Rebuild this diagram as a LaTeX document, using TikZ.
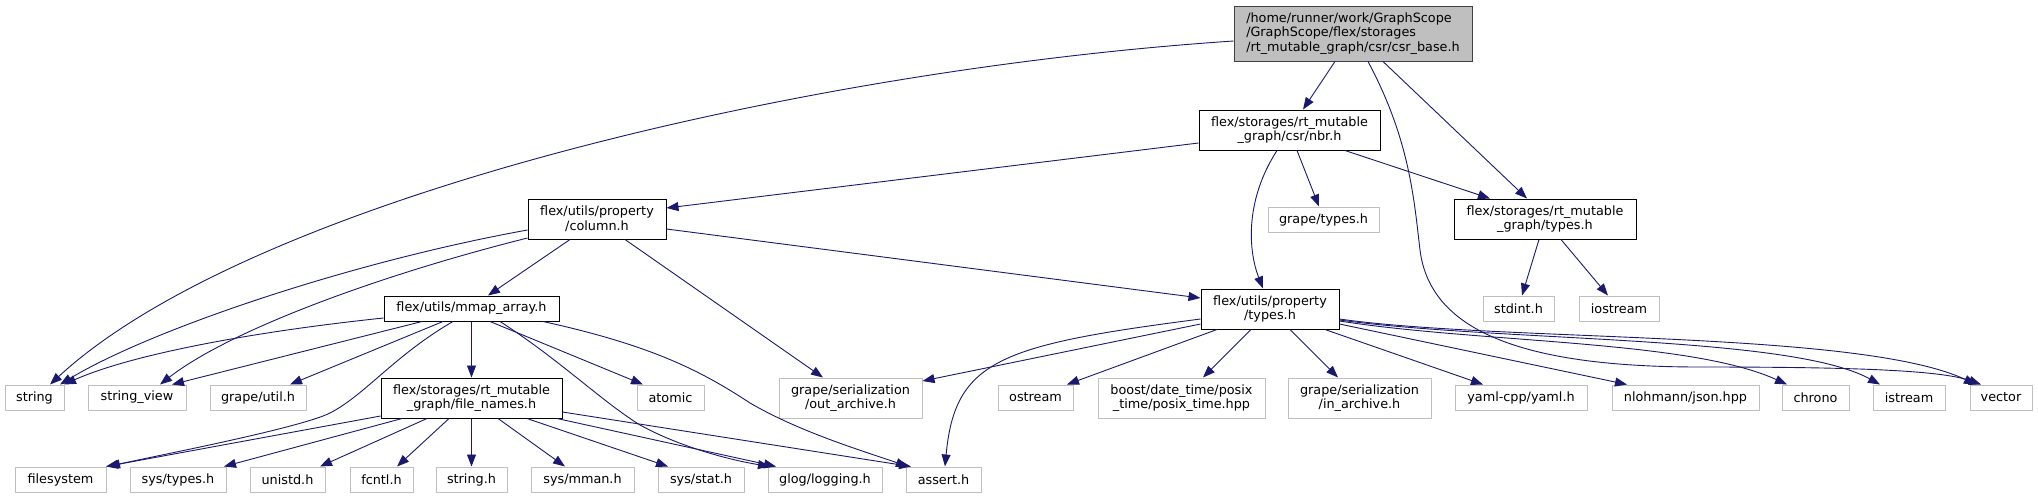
\documentclass[tikz,border=0pt]{standalone}
\usepackage{fontspec}
\setmainfont{DejaVu Sans}
\usetikzlibrary{arrows.meta}
\definecolor{edgeblue}{HTML}{191970}
\definecolor{extgray}{HTML}{BFBFBF}
\definecolor{mainfill}{HTML}{BFBFBF}
\definecolor{mainborder}{HTML}{404040}
\definecolor{locborder}{HTML}{000000}
\begin{document}
\begin{tikzpicture}[x=1pt,y=-1pt,
  base/.style={inner sep=0pt, line width=1pt, font=\fontsize{12.8pt}{14.7pt}\selectfont, anchor=center},
  mainnode/.style={base, draw=mainborder, fill=mainfill, align=left},
  loc/.style={base, draw=locborder, fill=white, align=center},
  ext/.style={base, draw=extgray, fill=white, align=center},
  e/.style={draw=edgeblue, line width=0.9pt, -{Triangle[length=12pt,width=9pt]}, fill=none},
  every edge/.style={}]
\fill[white] (0,0) rectangle (2038,499);
\useasboundingbox (0,0) rectangle (2038,499);

% local nodes
\node[mainnode, minimum width=238pt, minimum height=55pt] (main) at (1353,33.5) {/home/runner/work/GraphScope\\/GraphScope/flex/storages\\/rt\_mutable\_graph/csr/csr\_base.h};
\node[loc, minimum width=181pt, minimum height=40pt] (nbr) at (1289.5,130) {flex/storages/rt\_mutable\\\_graph/csr/nbr.h};
\node[loc, minimum width=182pt, minimum height=40pt] (rttypes) at (1545,219) {flex/storages/rt\_mutable\\\_graph/types.h};
\node[loc, minimum width=138pt, minimum height=40pt] (column) at (597,219) {flex/utils/property\\/column.h};
\node[loc, minimum width=138pt, minimum height=40pt] (proptypes) at (1270,309) {flex/utils/property\\/types.h};
\node[loc, minimum width=175pt, minimum height=25pt] (mmap) at (471.5,308.5) {flex/utils/mmap\_array.h};
\node[loc, minimum width=181pt, minimum height=40pt] (filenames) at (471.5,398) {flex/storages/rt\_mutable\\\_graph/file\_names.h};

% external nodes
\node[ext, minimum width=111pt, minimum height=25pt] (grapetypes) at (1323.5,219.5) {grape/types.h};
\node[ext, minimum width=71pt, minimum height=25pt] (stdint) at (1518.5,308.5) {stdint.h};
\node[ext, minimum width=80pt, minimum height=25pt] (iostream) at (1619,308.5) {iostream};
\node[ext, minimum width=59pt, minimum height=25pt] (string) at (34.5,397.5) {string};
\node[ext, minimum width=98pt, minimum height=25pt] (stringview) at (137,397.5) {string\_view};
\node[ext, minimum width=96pt, minimum height=25pt] (grapeutil) at (258,397.5) {grape/util.h};
\node[ext, minimum width=67pt, minimum height=25pt] (atomic) at (670.5,397.5) {atomic};
\node[ext, minimum width=143pt, minimum height=40pt] (outarchive) at (850.5,398) {grape/serialization\\/out\_archive.h};
\node[ext, minimum width=75pt, minimum height=25pt] (ostream) at (1035.5,397.5) {ostream};
\node[ext, minimum width=167pt, minimum height=40pt] (boost) at (1181.5,398) {boost/date\_time/posix\\\_time/posix\_time.hpp};
\node[ext, minimum width=143pt, minimum height=40pt] (inarchive) at (1359.5,398) {grape/serialization\\/in\_archive.h};
\node[ext, minimum width=132pt, minimum height=25pt] (yaml) at (1521,397.5) {yaml-cpp/yaml.h};
\node[ext, minimum width=147pt, minimum height=25pt] (nlohmann) at (1685.5,397.5) {nlohmann/json.hpp};
\node[ext, minimum width=67pt, minimum height=25pt] (chrono) at (1815.5,397.5) {chrono};
\node[ext, minimum width=72pt, minimum height=25pt] (istream) at (1909,397.5) {istream};
\node[ext, minimum width=62pt, minimum height=25pt] (vector) at (2001,397.5) {vector};
\node[ext, minimum width=91pt, minimum height=25pt] (filesystem) at (60.5,479.5) {filesystem};
\node[ext, minimum width=96pt, minimum height=25pt] (systypes) at (178,479.5) {sys/types.h};
\node[ext, minimum width=75pt, minimum height=25pt] (unistd) at (287.5,479.5) {unistd.h};
\node[ext, minimum width=63pt, minimum height=25pt] (fcntl) at (381.5,479.5) {fcntl.h};
\node[ext, minimum width=71pt, minimum height=25pt] (stringh) at (471.5,479.5) {string.h};
\node[ext, minimum width=103pt, minimum height=25pt] (sysmman) at (582.5,479.5) {sys/mman.h};
\node[ext, minimum width=86pt, minimum height=25pt] (sysstat) at (701,479.5) {sys/stat.h};
\node[ext, minimum width=114pt, minimum height=25pt] (glog) at (825,479.5) {glog/logging.h};
\node[ext, minimum width=75pt, minimum height=25pt] (assert) at (943.5,479.5) {assert.h};

% main
\draw[e] (main.west |- 0,41) .. controls (800,70) and (250,200) .. (50,0 |- string.north);
\draw[e] (1335,0 |- main.south) -- (1303,0 |- nbr.north);
\draw[e] (1368,0 |- main.south) .. controls (1410,140) and (1414,200) .. (1420,250) .. controls (1430,330) and (1520,367) .. (1700,367) .. controls (1850,367) and (1940,370) .. (1981,0 |- vector.north);
\draw[e] (1383,0 |- main.south) -- (1527,0 |- rttypes.north);
% nbr
\draw[e] (nbr.west |- 0,143) -- (column.east |- 0,208);
\draw[e] (1277,0 |- nbr.south) .. controls (1245,200) and (1248,250) .. (1263,0 |- proptypes.north);
\draw[e] (1297,0 |- nbr.south) -- (1319,0 |- grapetypes.north);
\draw[e] (1345,0 |- nbr.south) -- (1490,0 |- rttypes.north);
% rttypes
\draw[e] (1539,0 |- rttypes.south) -- (1522,0 |- stdint.north);
\draw[e] (1561,0 |- rttypes.south) -- (1608,0 |- iostream.north);
% column
\draw[e] (column.west |- 0,230) .. controls (350,262) and (150,330) .. (60,0 |- string.north);
\draw[e] (column.west |- 0,238) .. controls (380,275) and (230,330) .. (160,0 |- stringview.north);
\draw[e] (570,0 |- column.south) -- (488,0 |- mmap.north);
\draw[e] (625,0 |- column.south) -- (823,0 |- outarchive.north);
\draw[e] (column.east |- 0,229) -- (proptypes.west |- 0,298);
% proptypes
\draw[e] (proptypes.west |- 0,324) -- (outarchive.east |- 0,381);
\draw[e] (proptypes.west |- 0,319) .. controls (1000,345) and (955,360) .. (945,0 |- assert.north);
\draw[e] (1217,0 |- proptypes.south) -- (1067,0 |- ostream.north);
\draw[e] (1251,0 |- proptypes.south) -- (1203,0 |- boost.north);
\draw[e] (1290,0 |- proptypes.south) -- (1338,0 |- inarchive.north);
\draw[e] (1325,0 |- proptypes.south) -- (1483,0 |- yaml.north);
\draw[e] (proptypes.east |- 0,324) -- (1627,0 |- nlohmann.north);
\draw[e] (proptypes.east |- 0,321) .. controls (1480,343) and (1690,340) .. (1787,0 |- chrono.north);
\draw[e] (proptypes.east |- 0,320) .. controls (1500,342) and (1790,335) .. (1880,0 |- istream.north);
\draw[e] (proptypes.east |- 0,319) .. controls (1500,342) and (1860,330) .. (1976,0 |- vector.north);
% mmap
\draw[e] (mmap.west |- 0,318) .. controls (250,332) and (130,355) .. (64,0 |- string.north);
\draw[e] (422,0 |- mmap.south) -- (172,0 |- stringview.north);
\draw[e] (443,0 |- mmap.south) -- (290,0 |- grapeutil.north);
\draw[e] (453,0 |- mmap.south) .. controls (395,355) and (365,395) .. (330,413) .. controls (300,428) and (160,455) .. (108,0 |- filesystem.north);
\draw[e] (mmap.south) -- (filenames.north);
\draw[e] (490,0 |- mmap.south) -- (643,0 |- atomic.north);
\draw[e] (500,0 |- mmap.south) .. controls (560,360) and (600,400) .. (640,425) .. controls (680,447) and (730,460) .. (770,0 |- glog.north);
\draw[e] (543,0 |- mmap.south) .. controls (650,345) and (700,370) .. (750,403) .. controls (800,432) and (860,450) .. (908,0 |- assert.north);
% filenames
\draw[e] (filenames.west |- 0,416) -- (106,0 |- filesystem.north);
\draw[e] (402,0 |- filenames.south) -- (224,0 |- systypes.north);
\draw[e] (427,0 |- filenames.south) -- (320,0 |- unistd.north);
\draw[e] (449,0 |- filenames.south) -- (397,0 |- fcntl.north);
\draw[e] (filenames.south) -- (stringh.north);
\draw[e] (498,0 |- filenames.south) -- (565,0 |- sysmman.north);
\draw[e] (527,0 |- filenames.south) -- (668,0 |- sysstat.north);
\draw[e] (557,0 |- filenames.south) -- (776,0 |- glog.north);
\draw[e] (filenames.east |- 0,412) -- (911,0 |- assert.north);
\end{tikzpicture}
\end{document}
